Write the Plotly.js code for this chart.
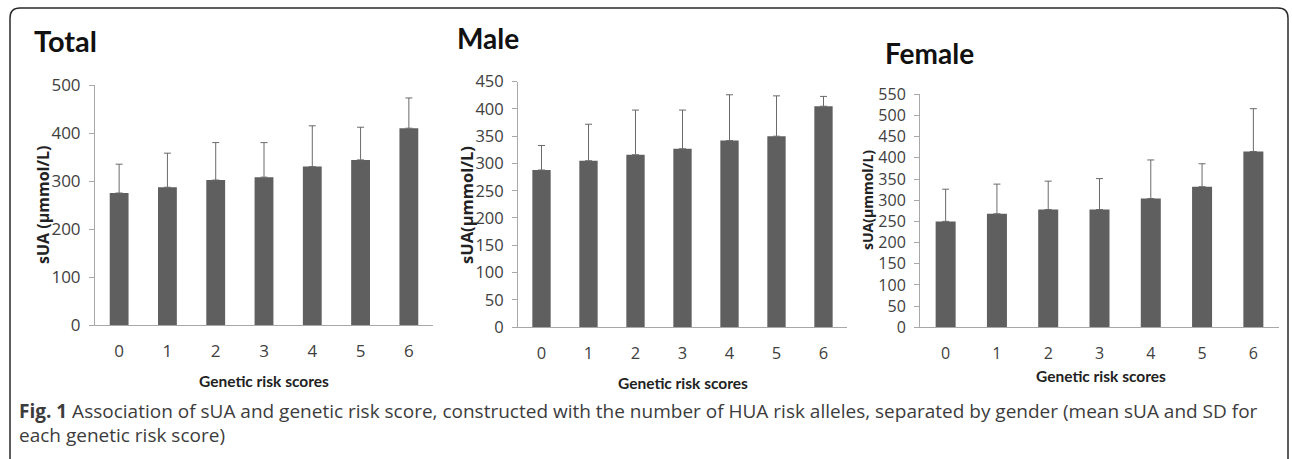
<!DOCTYPE html>
<html>
<head>
<meta charset="utf-8">
<script src="https://cdn.plot.ly/plotly-3.0.1.min.js"></script>
<style>
html,body{margin:0;padding:0;background:#fff;}
#chart{width:1292px;height:459px;}
</style>
</head>
<body>
<div id="chart"></div>
<script>
// ---- data ----
const scores = ["0", "1", "2", "3", "4", "5", "6"];
const totalMean = [275, 287, 302, 308, 330, 344, 410];
const totalSD   = [60, 71, 78, 72, 85, 68, 63];
const maleMean  = [288, 305, 316, 327, 342, 350, 405];
const maleSD    = [45, 67, 82, 71, 84, 74, 18];
const femaleMean = [250, 268, 278, 278, 304, 332, 415];
const femaleSD   = [76, 70, 67, 73, 91, 54, 101];
const noMinus = [0, 0, 0, 0, 0, 0, 0];
const panelTitles = ["Total", "Male", "Female"];
const yTitles = ["sUA (\u03bcmmol/L)", "sUA(\u03bcmmol/L)", "sUA(\u03bcmmol/L)"];
const xTitle = "Genetic risk scores";
const captionBold = "Fig. 1";
const captionLine1 = " Association of sUA and genetic risk score, constructed with the number of HUA risk alleles, separated by gender (mean sUA and SD for";
const captionLine2 = "each genetic risk score)";

// ---- helpers (pixel -> paper) ----
const W = 1292, H = 459;
const px = x => x / W;
const py = y => 1 - y / H;

const barColor = "#5f5f5f";
const errColor = "#6a6a6a";

function barTrace(means, sd, xa, ya) {
  return {
    type: "bar", x: scores, y: means, xaxis: xa, yaxis: ya,
    marker: {color: barColor, line: {width: 0}},
    error_y: {type: "data", symmetric: false, array: sd, arrayminus: noMinus,
              color: errColor, thickness: 1, width: 3.5},
    hoverinfo: "none", showlegend: false
  };
}

const data = [
  barTrace(totalMean, totalSD, "x", "y"),
  barTrace(maleMean, maleSD, "x2", "y2"),
  barTrace(femaleMean, femaleSD, "x3", "y3")
];

const axisLine = "#a8a8a8";
function xAxis(d, anchor, fs) {
  return {domain: d, anchor: anchor, type: "category", range: [-0.5, 6.5],
    showgrid: false, zeroline: false, showline: true, linecolor: axisLine, linewidth: 1,
    ticks: "", ticklabelstandoff: 11,
    tickfont: {family: "Open Sans", size: fs, color: "#404040"}, fixedrange: true};
}
function yAxis(d, anchor, maxv, dt, fs) {
  return {domain: d, anchor: anchor, range: [0, maxv], dtick: dt, tick0: 0,
    showgrid: false, zeroline: false, showline: true, linecolor: axisLine, linewidth: 1,
    ticks: "outside", ticklen: 5, tickcolor: axisLine, ticklabelstandoff: 5,
    tickfont: {family: "Open Sans", size: fs, color: "#404040"}, fixedrange: true};
}

const layout = {
  width: W, height: H,
  margin: {l: 0, r: 0, t: 0, b: 0},
  paper_bgcolor: "#fff", plot_bgcolor: "#fff",
  bargap: 0.61,
  xaxis:  xAxis([px(95), px(433)], "y", 17),
  yaxis:  yAxis([py(325), py(85)], "x", 500, 100, 17),
  xaxis2: xAxis([px(518), px(847)], "y2", 16.5),
  yaxis2: yAxis([py(327), py(81.7)], "x2", 450, 50, 16.5),
  xaxis3: xAxis([px(920), px(1279)], "y3", 16),
  yaxis3: yAxis([py(327.3), py(94.3)], "x3", 550, 50, 16),
  shapes: [{
    type: "path", xref: "paper", yref: "paper",
    path: `M ${px(10)},${py(470)} L ${px(10)},${py(18)} Q ${px(10)},${py(8)} ${px(20)},${py(8)} ` +
          `L ${px(1278)},${py(8)} Q ${px(1288)},${py(8)} ${px(1288)},${py(18)} L ${px(1288)},${py(470)}`,
    line: {color: "#2a2a2a", width: 1.5}
  }],
  annotations: [
    {text: "<b>" + panelTitles[0] + "</b>", x: px(32), y: py(40), xanchor: "left", yanchor: "middle",
     xref: "paper", yref: "paper", showarrow: false, font: {family: "Lato", size: 29, color: "#111"}},
    {text: "<b>" + panelTitles[1] + "</b>", x: px(455), y: py(38), xanchor: "left", yanchor: "middle",
     xref: "paper", yref: "paper", showarrow: false, font: {family: "Lato", size: 28, color: "#111"}},
    {text: "<b>" + panelTitles[2] + "</b>", x: px(883), y: py(53), xanchor: "left", yanchor: "middle",
     xref: "paper", yref: "paper", showarrow: false, font: {family: "Lato", size: 28, color: "#111"}},

    {text: "<b>" + yTitles[0] + "</b>", x: px(43), y: py(205), textangle: -90, xanchor: "center", yanchor: "middle",
     xref: "paper", yref: "paper", showarrow: false, font: {family: "Open Sans", size: 16, color: "#222"}},
    {text: "<b>" + yTitles[1] + "</b>", x: px(466), y: py(205), textangle: -90, xanchor: "center", yanchor: "middle",
     xref: "paper", yref: "paper", showarrow: false, font: {family: "Open Sans", size: 16.5, color: "#222"}},
    {text: "<b>" + yTitles[2] + "</b>", x: px(867), y: py(200), textangle: -90, xanchor: "center", yanchor: "middle",
     xref: "paper", yref: "paper", showarrow: false, font: {family: "Open Sans", size: 14, color: "#222"}},

    {text: "<b>" + xTitle + "</b>", x: px(264), y: py(381), xanchor: "center", yanchor: "middle",
     xref: "paper", yref: "paper", showarrow: false, font: {family: "Lato", size: 15.5, color: "#222"}},
    {text: "<b>" + xTitle + "</b>", x: px(683), y: py(383), xanchor: "center", yanchor: "middle",
     xref: "paper", yref: "paper", showarrow: false, font: {family: "Lato", size: 15.5, color: "#222"}},
    {text: "<b>" + xTitle + "</b>", x: px(1101), y: py(376), xanchor: "center", yanchor: "middle",
     xref: "paper", yref: "paper", showarrow: false, font: {family: "Lato", size: 15.5, color: "#222"}},

    {text: "<b>" + captionBold + "</b>" + captionLine1, x: px(17), y: py(411), xanchor: "left", yanchor: "middle",
     xref: "paper", yref: "paper", showarrow: false, font: {family: "Open Sans", size: 19, color: "#3c3c3c"}},
    {text: captionLine2, x: px(17), y: py(435), xanchor: "left", yanchor: "middle",
     xref: "paper", yref: "paper", showarrow: false, font: {family: "Open Sans", size: 19, color: "#3c3c3c"}}
  ]
};

Plotly.newPlot("chart", data, layout, {displayModeBar: false, staticPlot: true});
</script>
</body>
</html>
